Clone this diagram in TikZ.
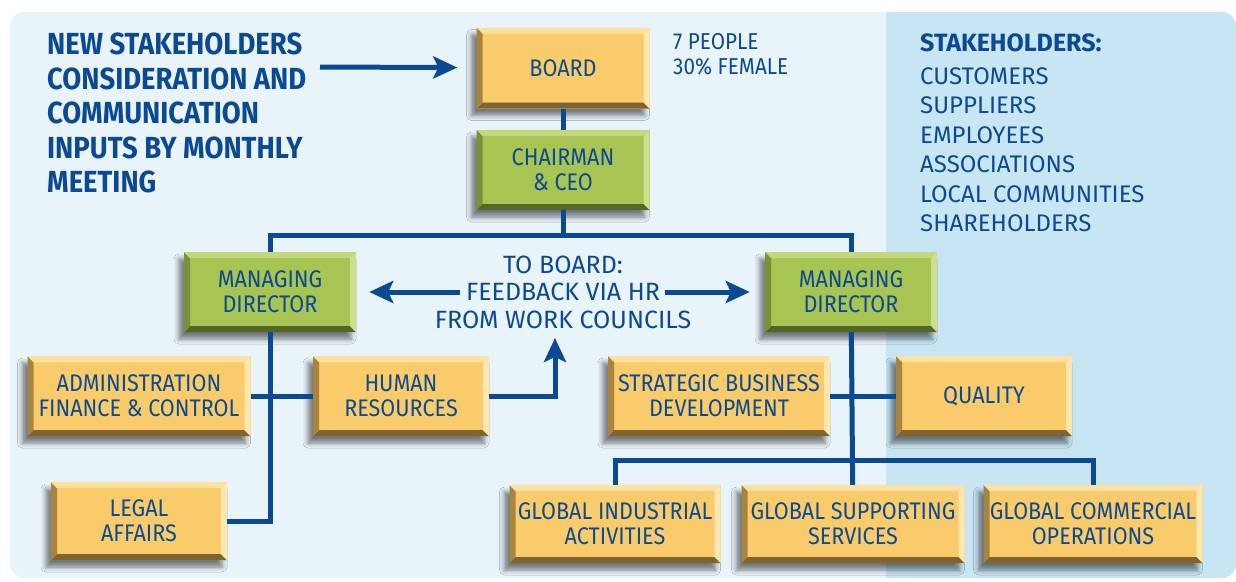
\documentclass[tikz,border=0pt]{standalone}
\usepackage{fontspec}
\setmainfont[FakeStretch=0.9]{Fira Sans}
\newfontfamily\widefont{Fira Sans}
\usetikzlibrary{arrows.meta,shadows.blur}

\definecolor{navy}{HTML}{0B4A92}
\definecolor{panel}{HTML}{E8F3FA}
\definecolor{band}{HTML}{C8E5F3}
\definecolor{yface}{HTML}{F9CB6A}
\definecolor{ybot}{HTML}{7F6330}
\definecolor{yleft}{HTML}{A8853F}
\definecolor{ytop}{HTML}{FDE1A0}
\definecolor{yright}{HTML}{FCE7B0}
\definecolor{gface}{HTML}{A8C452}
\definecolor{gbot}{HTML}{55662A}
\definecolor{gleft}{HTML}{7C9038}
\definecolor{gtop}{HTML}{C3D77F}
\definecolor{gright}{HTML}{CDDE8E}

\newcommand\bevel[4]{%
  \path (path picture bounding box.south west) coordinate (pSW)
        (path picture bounding box.north east) coordinate (pNE)
        (pSW -| pNE) coordinate (pSE) (pNE -| pSW) coordinate (pNW);
  \fill[#1] (pSW) -- (pSE) -- ([shift={(-6pt,6pt)}]pSE) -- ([shift={(6pt,6pt)}]pSW) -- cycle;
  \fill[#2] (pSW) -- ([shift={(6pt,6pt)}]pSW) -- ([shift={(6pt,-6pt)}]pNW) -- (pNW) -- cycle;
  \fill[#3] (pNW) -- ([shift={(6pt,-6pt)}]pNW) -- ([shift={(-6pt,-6pt)}]pNE) -- (pNE) -- cycle;
  \fill[#4] (pNE) -- ([shift={(-6pt,-6pt)}]pNE) -- ([shift={(-6pt,6pt)}]pSE) -- (pSE) -- cycle;
}

\begin{document}
\begin{tikzpicture}[x=1pt, y=-1pt,
    box/.style={rectangle, minimum height=80pt, inner sep=0pt, align=center, text=navy,
      font=\fontsize{24}{25}\selectfont,
      blur shadow={shadow xshift=-5pt, shadow yshift=-7pt, shadow blur radius=5pt, shadow opacity=50}},
    ybox/.style={box, fill=yface, path picture={\bevel{ybot}{yleft}{ytop}{yright}}},
    gbox/.style={box, fill=gface, path picture={\bevel{gbot}{gleft}{gtop}{gright}}},
    note/.style={anchor=north west, inner sep=0pt, align=left, text=navy},
    link/.style={draw=navy, line width=5pt},
    arrow/.style={link, -{Stealth[length=24pt, width=22pt, inset=5pt]}}
  ]
  \useasboundingbox (0,0) rectangle (1236,581);
  \fill[panel, rounded corners=14pt] (10,12) rectangle (1236,578);
  \begin{scope}
    \clip[rounded corners=14pt] (10,12) rectangle (1236,578);
    \fill[band] (886,0) rectangle (1236,581);
  \end{scope}

  \node[ybox, minimum width=173pt, minimum height=81pt] (board) at (563,68) {BOARD};
  \node[gbox, minimum width=173pt] (chair) at (563,170) {CHAIRMAN\\\& CEO};
  \node[gbox, minimum width=172pt] (mdl) at (270,292) {MANAGING\\DIRECTOR};
  \node[gbox, minimum width=172pt] (mdr) at (851,292) {MANAGING\\DIRECTOR};
  \node[ybox, minimum width=223pt] (admin) at (139,396) {ADMINISTRATION\\FINANCE \& CONTROL};
  \node[ybox, minimum width=176pt] (hr) at (401,396) {HUMAN\\RESOURCES};
  \node[ybox, minimum width=176pt, minimum height=78pt] (legal) at (139,521) {LEGAL\\AFFAIRS};
  \node[ybox, minimum width=222pt] (sbd) at (719,396) {STRATEGIC BUSINESS\\DEVELOPMENT};
  \node[ybox, minimum width=176pt] (quality) at (984,396) {QUALITY};
  \node[ybox, minimum width=211pt, minimum height=78pt] (gia) at (615,524) {GLOBAL INDUSTRIAL\\ACTIVITIES};
  \node[ybox, minimum width=223pt, minimum height=78pt] (gss) at (853,524) {GLOBAL SUPPORTING\\SERVICES};
  \node[ybox, minimum width=219pt, minimum height=78pt] (gco) at (1093,524) {GLOBAL COMMERCIAL\\OPERATIONS};

  \node[note, font=\fontsize{30.5}{34.5}\selectfont\bfseries] (inputs) at (47,33) {NEW STAKEHOLDERS\\CONSIDERATION AND\\COMMUNICATION\\INPUTS BY MONTHLY\\MEETING};
  \node[note, font=\fontsize{23}{25}\selectfont] (people) at (673,33) {7 PEOPLE\\30\% FEMALE};
  \node[note, font=\widefont\fontsize{25}{29.5}\selectfont\bfseries] (shtitle) at (920,34) {STAKEHOLDERS:};
  \node[note, font=\widefont\fontsize{24}{29.5}\selectfont] (shlist) at (920,67) {CUSTOMERS\\SUPPLIERS\\EMPLOYEES\\ASSOCIATIONS\\LOCAL COMMUNITIES\\SHAREHOLDERS};
  \node[text=navy, align=center, font=\widefont\fontsize{25}{27.5}\selectfont] (fb) at (563,292) {TO BOARD:\\FEEDBACK VIA HR\\FROM WORK COUNCILS};

  \coordinate (intip) at (320,67);
  \coordinate (split) at (563,235);
  \coordinate (fbl) at (460,292);
  \coordinate (fbr) at (665,292);
  \coordinate (fbin) at (555,338);
  \coordinate (gsplit) at (853,460);

  \draw[arrow, shorten >=19pt] (intip) -- (board);
  \draw[link] (board) -- (chair);
  \draw[link] (chair) -- (split);
  \draw[link] (mdl) |- (split) -| (mdr);
  \draw[link] (mdl) |- (legal);
  \draw[link] (admin) -- (hr);
  \draw[arrow] (hr) -| (fbin);
  \draw[arrow, shorten >=13pt] (fbl) -- (mdl);
  \draw[arrow, shorten >=15pt] (fbr) -- (mdr);
  \draw[link] (mdr) -- (gss);
  \draw[link] (sbd) -- (quality);
  \draw[link] (gia) |- (gsplit) -| (gco);
\end{tikzpicture}
\end{document}
